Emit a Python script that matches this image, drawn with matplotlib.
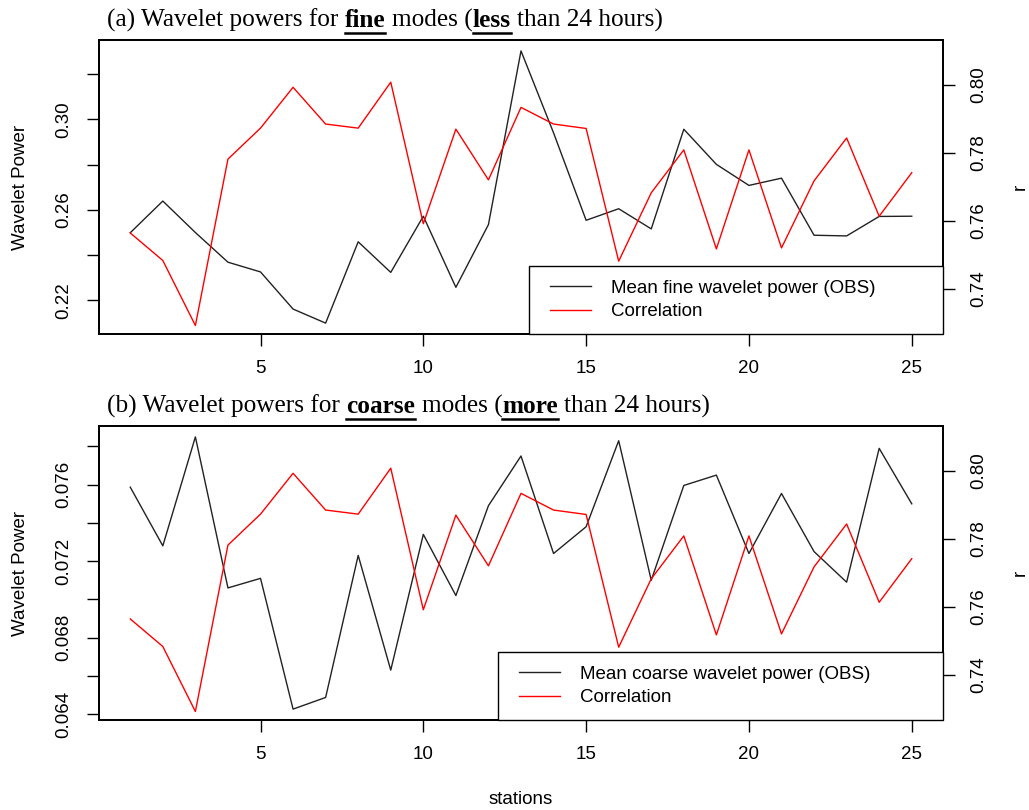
import numpy as np
import matplotlib.pyplot as plt
from matplotlib.lines import Line2D
from matplotlib.legend_handler import HandlerLine2D

# ---- data ----
stations = np.arange(1, 26)

fine_power = [0.2499, 0.2639, 0.2500, 0.2369, 0.2326, 0.2162, 0.2100, 0.2459, 0.2324, 0.2572,
              0.2258, 0.2535, 0.3302, 0.2940, 0.2554, 0.2605, 0.2516, 0.2956, 0.2801, 0.2708,
              0.2740, 0.2488, 0.2485, 0.2571, 0.2572]

coarse_power = [0.07587, 0.0728, 0.0785, 0.0706, 0.0711, 0.06426, 0.06487, 0.0723, 0.0663, 0.0734,
                0.0702, 0.0749, 0.0775, 0.0724, 0.0738, 0.0783, 0.0710, 0.07596, 0.0765, 0.0724,
                0.07554, 0.0725, 0.0709, 0.0779, 0.0750]

correlation = [0.7565, 0.7484, 0.7293, 0.7782, 0.7873, 0.7993, 0.7885, 0.7873, 0.8008, 0.7592,
               0.7870, 0.7721, 0.7934, 0.7885, 0.7872, 0.7482, 0.7683, 0.7809, 0.7518, 0.7809,
               0.7521, 0.7718, 0.7844, 0.7614, 0.7742]

xticks = [5, 10, 15, 20, 25]
fine_yticks = [0.22, 0.24, 0.26, 0.28, 0.30, 0.32]
fine_ylabels = ['0.22', '', '0.26', '', '0.30', '']
coarse_yticks = [0.064, 0.066, 0.068, 0.070, 0.072, 0.074, 0.076, 0.078]
coarse_ylabels = ['0.064', '', '0.068', '', '0.072', '', '0.076', '']
r_ticks = [0.74, 0.76, 0.78, 0.80]

W, H = 1029, 810
FS = 13.5
TFS = 18.2
SANS = 'Liberation Sans'
SERIF = 'Liberation Serif'

plt.rcParams['font.family'] = SANS

fig = plt.figure(figsize=(W / 100, H / 100), dpi=100)


def rlim(v):
    # R style 4% padding
    lo, hi = min(v), max(v)
    d = (hi - lo) * 0.04
    return lo - d, hi + d


def panel(top_px, power, yticks, ylabels, label, leg_left_px, leg_top_px, show_xlabel):
    ax = fig.add_axes([99 / W, 1 - (top_px + 294) / H, 844 / W, 294 / H])
    ax2 = ax.twinx()

    l1, = ax.plot(stations, power, color='#222222', lw=1.0)
    l2, = ax2.plot(stations, correlation, color='red', lw=1.0)

    ax.set_xlim(0.04, 25.96)
    ax.set_ylim(*rlim(power))
    ax2.set_ylim(0.7268, 0.8132)

    ax.set_xticks(xticks)
    ax.set_yticks(yticks)
    ax.set_yticklabels(ylabels, rotation=90, va='center')
    ax2.set_yticks(r_ticks)
    ax2.set_yticklabels(['%.2f' % t for t in r_ticks], rotation=90, va='center')

    for a in (ax, ax2):
        for s in a.spines.values():
            s.set_linewidth(1.3)
    ax.tick_params(axis='both', length=8.6, width=1.0, labelsize=FS)
    ax.tick_params(axis='x', pad=10)
    ax.tick_params(axis='y', pad=11)
    ax2.tick_params(axis='y', length=8.6, width=1.0, labelsize=FS, pad=11)

    ax.set_ylabel('Wavelet Power', fontsize=FS, va='center')
    ax.yaxis.set_label_coords((21 - 99) / 844, 0.5)
    ax2.set_ylabel('r', fontsize=FS, rotation=90, va='center')
    ax2.yaxis.set_label_coords((1020 - 99) / 844, 0.5)

    if show_xlabel:
        ax.set_xlabel('stations', fontsize=FS, va='center')
        ax.xaxis.set_label_coords(0.5, -80 / 294)

    x0 = (leg_left_px - 99) / 844
    h = (top_px + 294 - leg_top_px) / 294
    leg = ax2.legend([l1, l2], [label, 'Correlation'], loc='lower left',
                     bbox_to_anchor=(x0, 0, 1 - x0, h), mode='expand',
                     borderaxespad=0, fontsize=FS, frameon=True, fancybox=False,
                     edgecolor='black', framealpha=1, handlelength=2.59,
                     handletextpad=1.05, borderpad=0.73, labelspacing=0.33,
                     handler_map={Line2D: HandlerLine2D(xpad=0.39)})
    leg.get_frame().set_linewidth(1.0)
    return ax


def title(parts, x_px, base_px, under_px):
    r = fig.canvas.get_renderer()
    a = fig.text(0, 0, 'a a', fontsize=TFS, family=SERIF)
    b = fig.text(0, 0, 'aa', fontsize=TFS, family=SERIF)
    gap = a.get_window_extent(r).width - b.get_window_extent(r).width
    a.remove()
    b.remove()
    x = x_px
    for txt, bold, space in parts:
        t = fig.text(x / W, 1 - base_px / H, txt, fontsize=TFS, family=SERIF,
                     weight='bold' if bold else 'normal', ha='left', va='baseline')
        bb = t.get_window_extent(r)
        if bold:
            fig.add_artist(Line2D([bb.x0 / W, bb.x1 / W], [1 - under_px / H] * 2,
                                  color='black', lw=1.8))
        x = bb.x1 + (gap if space else 0)


panel(40, fine_power, fine_yticks, fine_ylabels, 'Mean fine wavelet power (OBS)', 529, 266, False)
panel(426, coarse_power, coarse_yticks, coarse_ylabels, 'Mean coarse wavelet power (OBS)', 498, 652, True)

title([('(a) Wavelet powers for', False, True), ('fine', True, True), ('modes (', False, False),
       ('less', True, True), ('than 24 hours)', False, False)], 107, 27, 33)
title([('(b) Wavelet powers for', False, True), ('coarse', True, True), ('modes (', False, False),
       ('more', True, True), ('than 24 hours)', False, False)], 107, 413, 419)

fig.savefig('out.png', dpi=100)
